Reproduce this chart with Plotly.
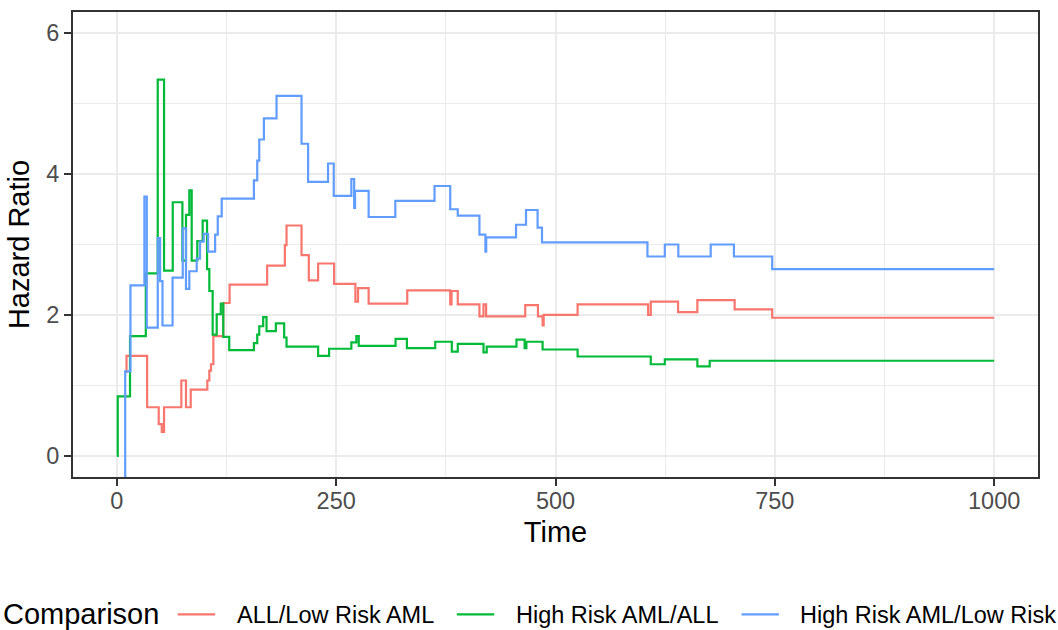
import plotly.graph_objects as go

# ---- data (step functions: time of change, value after change) ----
series_names = ["ALL/Low Risk AML", "High Risk AML/ALL", "High Risk AML/Low Risk AML"]
series_colors = ["#F8766D", "#00BA38", "#619CFF"]

t_all_low = [10.2, 11, 34.5, 47.7, 51.2, 53.8, 73.5, 78.8, 84.2, 103.1, 105.4, 107.3, 110,
             121.3, 128.5, 171.3, 191.5, 193.4, 210.5, 218.8, 229.4, 247.6, 271.9, 274.9,
             287, 331, 380, 381.5, 388.6, 413.3, 417.9, 420.9, 465.5, 480, 485.3, 486.5,
             525.2, 605.6, 608.6, 639.7, 661.7, 704.2, 747, 1000]
hr_all_low = [1.19, 1.42, 0.69, 0.45, 0.34, 0.69, 1.07, 0.69, 0.94, 1.07, 1.21, 1.30, 1.70,
              2.17, 2.43, 2.70, 2.99, 3.27, 2.85, 2.49, 2.73, 2.44, 2.19, 2.38,
              2.16, 2.35, 2.15, 2.34, 2.15, 1.98, 2.15, 1.98, 2.14, 1.98, 1.85, 2.00,
              2.15, 2.00, 2.19, 2.04, 2.21, 2.08, 1.96, 1.96]

t_high_all = [0, 1, 15, 33, 46.6, 53.8, 63.7, 74.7, 78.8, 82.6, 85.3, 91.7, 97.8, 102.8,
              105.4, 109.2, 113.8, 118.5, 121.3, 128.1, 156.2, 160, 162.3, 166.8, 170.6,
              181.2, 190.7, 193.4, 229.4, 241.9, 267.3, 273, 275.7, 317.7, 330.6, 362.9,
              381.8, 388.6, 417.9, 421.6, 455.5, 464.8, 466.8, 485.3, 525.2, 608.6, 624.6,
              661.7, 675.8, 1000]
hr_high_all = [0.0, 0.845, 1.70, 2.59, 5.34, 2.63, 3.60, 2.77, 3.42, 3.77, 2.77, 3.05, 3.34, 2.65,
               2.34, 1.72, 2.01, 2.16, 1.69, 1.50, 1.60, 1.72, 1.84, 1.97, 1.77,
               1.88, 1.68, 1.55, 1.42, 1.52, 1.61, 1.70, 1.56, 1.66, 1.53, 1.62,
               1.48, 1.59, 1.47, 1.55, 1.65, 1.53, 1.62, 1.51, 1.41, 1.30, 1.37,
               1.27, 1.35, 1.35]

t_high_low = [8.5, 9.5, 15.5, 31.4, 34.1, 46.6, 49.3, 52, 63.5, 75.1, 78.8, 82.6, 91, 94.8,
              99, 104, 112, 115, 119.5, 156.2, 160, 162.3, 167.6, 182, 210.5, 218, 240.7,
              247.2, 267.3, 270.5, 271.5, 287, 317.4, 362.1, 380, 388.6, 413.3, 420.1, 421,
              455, 466.4, 479.6, 484.6, 604.8, 624.6, 640, 676.9, 703.4, 747, 1000]
hr_high_low = [-0.5, 1.20, 2.42, 3.68, 1.82, 3.09, 2.48, 1.85, 2.53, 3.23, 2.37, 2.62, 2.80, 3.04,
               3.15, 2.90, 3.14, 3.40, 3.65, 3.91, 4.19, 4.49, 4.79, 5.11, 4.43, 3.89, 4.15,
               3.69, 3.93, 3.52, 3.76, 3.39, 3.62, 3.83, 3.50, 3.41, 3.14, 2.90, 3.10,
               3.28, 3.49, 3.24, 3.03, 2.83, 3.00, 2.83, 3.00, 2.83, 2.65, 2.65]

x_ticks = [0, 250, 500, 750, 1000]
y_ticks = [0, 2, 4, 6]
x_title = "Time"
y_title = "Hazard Ratio"
legend_title = "Comparison"

series_t = [t_all_low, t_high_all, t_high_low]
series_v = [hr_all_low, hr_high_all, hr_high_low]

# ---- layout geometry (pixels) ----
W, H = 1058, 630
ML, MR, MT, MB = 73.3, 20, 9.7, 153
PW, PH = W - ML - MR, H - MT - MB

def px_x(px):
    return (px - ML) / PW

def px_y(py):
    return (H - MB - py) / PH

FONT = "Liberation Sans, Arial, sans-serif"

fig = go.Figure()
for name, col, t, v in zip(series_names, series_colors, series_t, series_v):
    fig.add_trace(go.Scatter(x=t, y=v, mode="lines", name=name,
                             line=dict(color=col, width=2.2, shape="hv"),
                             showlegend=False))

axis_common = dict(
    showline=True, linecolor="#333333", linewidth=2, mirror=True,
    ticks="outside", ticklen=7, tickwidth=2, tickcolor="#333333",
    showgrid=True, gridcolor="#EBEBEB", gridwidth=2, zeroline=False,
    tickfont=dict(family=FONT, size=23.5, color="#4D4D4D"),
)

fig.update_xaxes(range=[-50, 1050], tickvals=x_ticks, ticktext=[str(v) for v in x_ticks],
                 minor=dict(tickvals=[125, 375, 625, 875], showgrid=True,
                            gridcolor="#EBEBEB", gridwidth=1, ticks=""),
                 ticklabelstandoff=-5,
                 title=dict(text=x_title, font=dict(family=FONT, size=29, color="black"), standoff=8),
                 **axis_common)
fig.update_yaxes(range=[-0.3, 6.3], tickvals=y_ticks, ticktext=[str(v) for v in y_ticks],
                 minor=dict(tickvals=[1, 3, 5], showgrid=True,
                            gridcolor="#EBEBEB", gridwidth=1, ticks=""),
                 title=dict(text=y_title, font=dict(family=FONT, size=29, color="black"), standoff=8),
                 **axis_common)

# ---- legend drawn at bottom (ggplot-style, running off the right edge) ----
leg_y = 615
annotations = [dict(text=legend_title, x=px_x(1), y=px_y(leg_y), xref="paper", yref="paper",
                    xanchor="left", yanchor="middle", showarrow=False,
                    font=dict(family=FONT, size=29, color="black"))]
shapes = []
key_x = [(178, 215.4, 235), (457, 494.4, 514), (741.6, 779, 798.5)]
for name, col, (x0, x1, tx) in zip(series_names, series_colors, key_x):
    shapes.append(dict(type="line", xref="paper", yref="paper",
                       x0=px_x(x0), x1=px_x(x1), y0=px_y(leg_y), y1=px_y(leg_y),
                       line=dict(color=col, width=2.2)))
    annotations.append(dict(text=name, x=px_x(tx), y=px_y(leg_y + 1), xref="paper", yref="paper",
                            xanchor="left", yanchor="middle", showarrow=False,
                            font=dict(family=FONT, size=23.5, color="black")))

fig.update_layout(
    width=W, height=H, autosize=False,
    margin=dict(l=ML, r=MR, t=MT, b=MB),
    paper_bgcolor="white", plot_bgcolor="white",
    annotations=annotations, shapes=shapes,
    showlegend=False,
)

fig.write_html("out.html")
